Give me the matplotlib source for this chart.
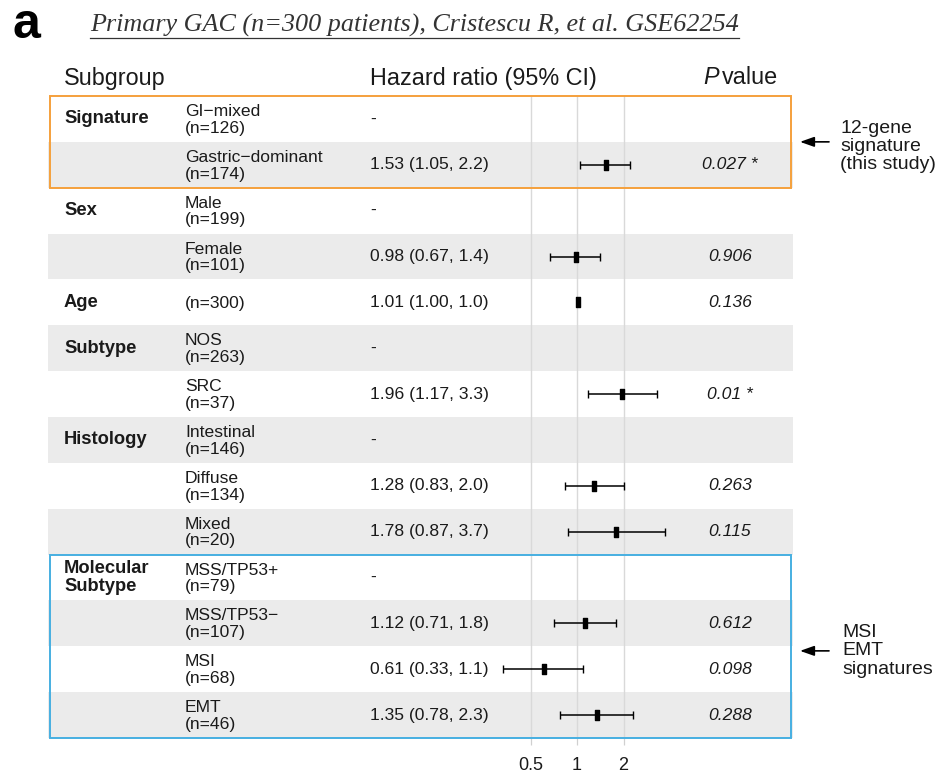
import numpy as np
import matplotlib
matplotlib.use("Agg")
import matplotlib.pyplot as plt
import matplotlib.transforms as mtransforms
from matplotlib.path import Path
from matplotlib.patches import Rectangle
from matplotlib.lines import Line2D

plt.rcParams['font.family'] = ['Liberation Sans', 'DejaVu Sans']

# table contents
groups = ["Signature", "", "Sex", "", "Age", "Subtype", "", "Histology", "", "",
          "Molecular\nSubtype", "", "", ""]
levels = ["GI\u2212mixed\n(n=126)", "Gastric\u2212dominant\n(n=174)", "Male\n(n=199)",
          "Female\n(n=101)", "(n=300)", "NOS\n(n=263)", "SRC\n(n=37)",
          "Intestinal\n(n=146)", "Diffuse\n(n=134)", "Mixed\n(n=20)",
          "MSS/TP53+\n(n=79)", "MSS/TP53\u2212\n(n=107)", "MSI\n(n=68)", "EMT\n(n=46)"]
hr = [np.nan, 1.53, np.nan, 0.98, 1.01, np.nan, 1.96, np.nan, 1.28, 1.78, np.nan, 1.12, 0.61, 1.35]
ci_lo = [np.nan, 1.05, np.nan, 0.67, 1.00, np.nan, 1.17, np.nan, 0.83, 0.87, np.nan, 0.71, 0.33, 0.78]
ci_hi = [np.nan, 2.2, np.nan, 1.4, 1.02, np.nan, 3.3, np.nan, 2.0, 3.7, np.nan, 1.8, 1.1, 2.3]
hr_labels = ["-", "1.53 (1.05, 2.2)", "-", "0.98 (0.67, 1.4)", "1.01 (1.00, 1.0)", "-",
             "1.96 (1.17, 3.3)", "-", "1.28 (0.83, 2.0)", "1.78 (0.87, 3.7)", "-",
             "1.12 (0.71, 1.8)", "0.61 (0.33, 1.1)", "1.35 (0.78, 2.3)"]
p_labels = ["", "0.027 *", "", "0.906", "0.136", "", "0.01 *", "", "0.263", "0.115", "",
            "0.612", "0.098", "0.288"]
x_ticks = [0.5, 1, 2]
x_ticklabels = ["0.5", "1", "2"]

W, H = 946, 773
fig = plt.figure(figsize=(W / 100, H / 100), dpi=100)

# table axes: pixels 48..793 wide, 96..738 tall
ax_l, ax_r, ax_t, ax_b = 48, 793, 96, 738
ax = fig.add_axes([ax_l / W, 1 - ax_b / H, (ax_r - ax_l) / W, (ax_b - ax_t) / H])
n = len(levels)
px_per_dbl = 46.5
x_one = 577
ax.set_xscale('log')
ax.set_xlim(2 ** ((ax_l - x_one) / px_per_dbl), 2 ** ((ax_r - x_one) / px_per_dbl))
ax.set_ylim(n, 0)
for s in ax.spines.values():
    s.set_visible(False)
ax.set_yticks([])
ax.set_xticks(x_ticks)
ax.set_xticklabels(x_ticklabels)
ax.minorticks_off()
ax.tick_params(axis='x', length=5, width=0.9, color='#d0d0d0', labelsize=13, pad=9,
               labelcolor='#1a1a1a')
ax.grid(axis='x', color='#d9d9d9', linewidth=1.0)

# alternating row shading
for i in range(n):
    if i % 2 == 1:
        ax.axhspan(i, i + 1, color='#ebebeb', lw=0, zorder=0)

# highlight boxes
bt = mtransforms.blended_transform_factory(ax.transAxes, ax.transData)
ax.add_patch(Rectangle((0.003, 0), 0.994, 2, transform=bt, fill=False,
                       edgecolor='#f5a03c', lw=1.4, zorder=5, clip_on=False))
ax.add_patch(Rectangle((0.003, 10), 0.994, 4, transform=bt, fill=False,
                       edgecolor='#46afe1', lw=1.4, zorder=5, clip_on=False))

# confidence intervals and point estimates
y = np.arange(n) + 0.5
hr_a, lo_a, hi_a = np.array(hr), np.array(ci_lo), np.array(ci_hi)
ax.errorbar(hr_a, y, xerr=[hr_a - lo_a, hi_a - hr_a], fmt='none', ecolor='black',
            elinewidth=1.1, capsize=2.8, capthick=1.0, zorder=4)
rect_marker = Path([(-0.25, -0.5), (0.25, -0.5), (0.25, 0.5), (-0.25, 0.5), (-0.25, -0.5)],
                   [Path.MOVETO, Path.LINETO, Path.LINETO, Path.LINETO, Path.CLOSEPOLY])
ax.plot(hr_a, y, linestyle='none', marker=rect_marker, markersize=7,
        color='black', zorder=5)

# text columns
def col(px):
    return (px - ax_l) / (ax_r - ax_l)

for i in range(n):
    if groups[i]:
        ax.text(col(64), y[i], groups[i], transform=bt, ha='left', va='center',
                fontsize=13.2, fontweight='bold', linespacing=1.15, color='#1a1a1a')
    ax.text(col(185), y[i] + 0.02, levels[i], transform=bt, ha='left', va='center',
            fontsize=12.6, linespacing=1.15, color='#1a1a1a')
    ax.text(col(370), y[i], hr_labels[i], transform=bt, ha='left', va='center',
            fontsize=12.6, color='#1a1a1a')
    if p_labels[i]:
        ax.text(col(730), y[i], p_labels[i], transform=bt, ha='center', va='center',
                fontsize=12.6, style='italic', color='#1a1a1a')

# headers
hy = (78 - ax_t) / ((ax_b - ax_t) / n)
ax.text(col(64), hy, "Subgroup", transform=bt, ha='left', va='center', fontsize=16.8,
        color='#1a1a1a')
ax.text(col(370), hy, "Hazard ratio (95% CI)", transform=bt, ha='left', va='center',
        fontsize=16.8, color='#1a1a1a')
ax.text(col(719), hy, "P", transform=bt, ha='right', va='center', fontsize=16.8,
        style='italic', color='#1a1a1a')
ax.text(col(722), hy, "value", transform=bt, ha='left', va='center', fontsize=16.8,
        color='#1a1a1a')

# side annotations
arrow = dict(arrowstyle='-|>,head_width=0.3,head_length=0.85', color='black', lw=1.2,
             shrinkA=0, shrinkB=0)
ax.annotate("", xy=(col(800), 1.0), xytext=(col(829), 1.0), xycoords=bt, textcoords=bt,
            arrowprops=arrow, annotation_clip=False)
ax.text(col(840), 1.1, "12-gene\nsignature\n(this study)", transform=bt, ha='left',
        va='center', fontsize=14, linespacing=1.1, color='#1a1a1a')
ax.annotate("", xy=(col(800), 12.1), xytext=(col(829), 12.1), xycoords=bt, textcoords=bt,
            arrowprops=arrow, annotation_clip=False)
ax.text(col(842), 12.1, "MSI\nEMT\nsignatures", transform=bt, ha='left',
        va='center', fontsize=14, linespacing=1.1, color='#1a1a1a')

# panel letter and title
fig.text(12 / W, 1 - 25 / H, "a", ha='left', va='center', fontsize=36, fontweight='bold')
title = fig.text(90 / W, 1 - 32 / H, "Primary GAC (n=300 patients), Cristescu R, et al. GSE62254",
                 ha='left', va='baseline', fontsize=18.8, style='italic',
                 family='Liberation Serif', color='#333333')
fig.canvas.draw()
bb = title.get_window_extent()
uy = 1 - 38 / H
fig.add_artist(Line2D([bb.x0 / W, bb.x1 / W], [uy, uy], transform=fig.transFigure,
                      color='#333333', lw=0.9))

plt.savefig("out.png", dpi=100)
